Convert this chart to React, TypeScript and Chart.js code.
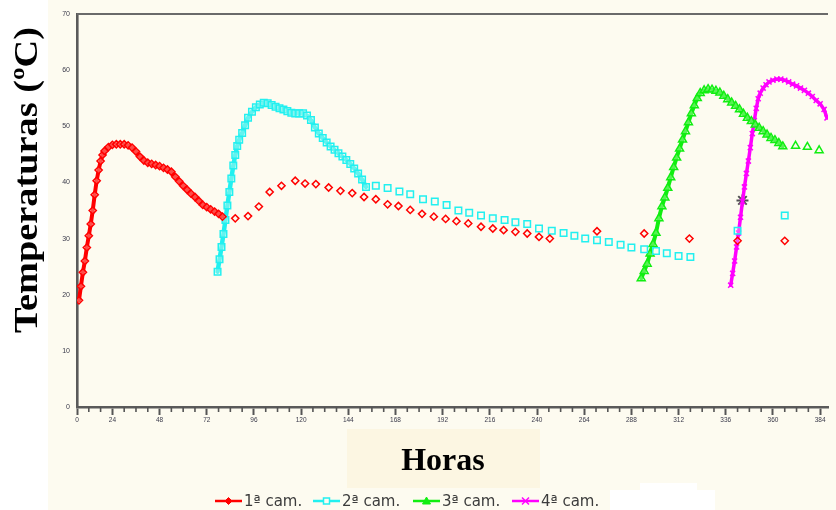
import React, { useEffect, useRef } from "react";
import { Chart, registerables } from "chart.js";

Chart.register(...registerables);

// ---------- axis / tick data ----------
const xMin = 6;
const xMax = 388;
const yMin = 0;
const yMax = 70;
const yStep = 10;
const majorTickHours = [6, 24, 48, 72, 96, 120, 144, 168, 192, 216, 240, 264, 288, 312, 336, 360, 384];
const majorTickLabels = ["0", "24", "48", "72", "96", "120", "144", "168", "192", "216", "240", "264", "288", "312", "336", "360", "384"];
const minorTickStep = 6;

const yTitle = "Temperaturas (ºC)";
const xTitle = "Horas";
const seriesNames = ["1ª cam.", "2ª cam.", "3ª cam.", "4ª cam."];

// ---------- series data (hours, ºC) ----------
const cam1Hours = [
  7, 8, 9, 10, 11, 12, 13, 14, 15, 16, 17, 18, 19, 20, 22, 24, 26, 28, 30, 32, 34, 36, 38, 40, 42, 44, 46, 48, 50,
  52, 54, 56, 58, 60, 62, 64, 66, 68, 70, 72, 74, 76, 78, 80,
  86.5, 93, 98.5, 104, 110, 117, 122, 127.5, 134, 140, 146, 152, 158, 164, 169.5, 175.5, 181.5, 187.5, 193.5, 199,
  205, 211.5, 217.5, 223, 229, 235, 241, 246.5, 270.5, 294.5, 317.5, 342, 366,
];
const cam1Temps = [
  19.0, 21.5, 24.0, 26.0, 28.4, 30.5, 32.6, 35.0, 37.8, 40.3, 42.2, 43.8, 44.9, 45.6, 46.3, 46.7, 46.8, 46.8, 46.8,
  46.6, 46.2, 45.5, 44.6, 43.9, 43.5, 43.3, 43.1, 42.9, 42.6, 42.3, 41.9, 41.0, 40.2, 39.4, 38.7, 38.0, 37.4, 36.7,
  36.0, 35.6, 35.2, 34.8, 34.4, 33.9,
  33.6, 34.0, 35.7, 38.3, 39.4, 40.3, 39.8, 39.7, 39.1, 38.5, 38.1, 37.4, 37.0, 36.1, 35.8, 35.1, 34.4, 33.9, 33.5,
  33.1, 32.7, 32.1, 31.8, 31.5, 31.2, 30.9, 30.3, 30.0, 31.3, 30.9, 30.0, 29.6, 29.6,
];

const cam2Hours = [
  77.5, 78.5, 79.5, 80.5, 81.5, 82.5, 83.5, 84.5, 85.5, 86.5, 87.5, 88.5, 90, 91.5, 93, 95, 97, 99, 101, 103, 105,
  107, 109, 111, 113, 115, 117, 119, 121, 123, 125, 127, 129, 131, 133, 135, 137, 139, 141, 143, 145, 147, 149, 151,
  153,
  158, 164, 170, 175.5, 182, 188, 194, 200, 205.5, 211.5, 217.5, 223.5, 229, 235, 241, 247.5, 253.5, 259, 264.5,
  270.5, 276.5, 282.5, 288, 294.5, 300.5, 306, 312, 318, 342, 366,
];
const cam2Temps = [
  24.1, 26.3, 28.5, 30.8, 33.3, 35.9, 38.3, 40.7, 43.0, 44.9, 46.5, 47.6, 48.8, 50.2, 51.5, 52.6, 53.4, 53.9, 54.2,
  54.1, 53.8, 53.5, 53.2, 53.0, 52.7, 52.4, 52.3, 52.3, 52.3, 51.9, 51.1, 49.8, 48.7, 47.9, 47.1, 46.4, 45.8, 45.2,
  44.6, 44.0, 43.3, 42.5, 41.6, 40.5, 39.2,
  39.4, 39.0, 38.4, 37.9, 37.0, 36.6, 36.0, 35.0, 34.6, 34.1, 33.6, 33.3, 32.9, 32.6, 31.8, 31.4, 31.0, 30.5, 30.0,
  29.7, 29.4, 28.9, 28.4, 28.1, 27.8, 27.4, 26.9, 26.7, 31.4, 34.1,
];

const cam3Hours = [
  293, 294.5, 296, 297.5, 299, 300.5, 302, 303.5, 305, 306.5, 308, 309.5, 311, 312.5, 314, 315.5, 317, 318.5, 320,
  321.5, 323, 325, 327, 329, 331, 333, 335, 337, 339, 341, 343, 345, 347, 349, 351, 353, 355, 357, 359, 361, 363, 365,
  371.5, 377.5, 383.5,
];
const cam3Temps = [
  22.9, 24.2, 25.5, 27.3, 29.0, 31.0, 33.6, 35.7, 37.3, 39.0, 40.9, 42.7, 44.4, 46.0, 47.6, 49.1, 50.7, 52.3, 53.7,
  55.0, 55.9, 56.4, 56.6, 56.5, 56.3, 56.0, 55.4, 54.8, 54.2, 53.6, 53.0, 52.2, 51.5, 50.9, 50.3, 49.7, 49.1, 48.5,
  47.9, 47.5, 47.0, 46.4,
  46.5, 46.3, 45.7,
];

const cam4Hours = [
  338.5, 339.5, 340.5, 341.5, 342.5, 343.5, 344.5, 345.5, 346.5, 347.5, 348.5, 349.5, 350.5, 351.5, 352.5, 353.5,
  355, 356.5, 358, 360, 362, 364, 366, 368, 370, 372, 374, 376, 378, 380, 382, 384, 386, 387.5,
];
const cam4Temps = [
  21.7, 23.8, 26.0, 28.5, 31.0, 33.8, 36.6, 39.2, 41.6, 43.8, 46.2, 48.7, 51.0, 53.2, 54.9, 55.9, 56.8, 57.4, 57.9,
  58.2, 58.4, 58.4, 58.2, 57.9, 57.5, 57.2, 56.8, 56.4, 55.9, 55.3, 54.6, 54.0, 53.0, 51.5,
];

const extraHours = [344.5];
const extraTemps = [36.8];

// ---------- styles ----------
const colors = ["#ff0000", "#22f0f0", "#11ee11", "#ff00ff"];
const pointStyles = ["rectRot", "rect", "triangle", "crossRot"];
const pointRadii = [3.6, 4.6, 4.6, 3.6];
const lineWidths = [4, 4.5, 4, 3.5];
const legendLefts = [215, 313, 413, 512];

const toPoints = (xs: number[], ys: number[]) => xs.map((x, i) => ({ x, y: ys[i] }));

const isMajor = (v: number) => majorTickHours.indexOf(v) >= 0;

const decorPlugin = {
  id: "decor",
  beforeDraw(chart: any) {
    const { ctx, width, height } = chart;
    ctx.save();
    ctx.fillStyle = "#ffffff";
    ctx.fillRect(0, 0, width, height);
    ctx.fillStyle = "#fdfbf0";
    ctx.fillRect(48, 0, width - 48, height);
    ctx.fillStyle = "#fcf6e2";
    ctx.fillRect(347, 429, 193, 59);
    ctx.fillStyle = "#ffffff";
    ctx.fillRect(610, 490, 105, 20);
    ctx.fillRect(640, 483, 57, 8);
    ctx.restore();
  },
  afterDraw(chart: any) {
    const { ctx, chartArea } = chart;
    const xs = chart.scales.x;
    ctx.save();
    // top frame line
    ctx.strokeStyle = "#6a6a6a";
    ctx.lineWidth = 2.2;
    ctx.beginPath();
    ctx.moveTo(chartArea.left, chartArea.top);
    ctx.lineTo(chartArea.right, chartArea.top);
    ctx.stroke();
    // minor ticks
    ctx.strokeStyle = "#555";
    ctx.lineWidth = 1.6;
    for (let h = xMin; h <= xMax; h += minorTickStep) {
      if (isMajor(h)) continue;
      const px = xs.getPixelForValue(h);
      ctx.beginPath();
      ctx.moveTo(px, chartArea.bottom);
      ctx.lineTo(px, chartArea.bottom + 5);
      ctx.stroke();
    }
    // y title
    ctx.fillStyle = "#000";
    ctx.font = 'bold 34px "Liberation Serif", "Times New Roman", serif';
    ctx.textAlign = "center";
    ctx.textBaseline = "middle";
    ctx.save();
    ctx.translate(28, 180);
    ctx.rotate(-Math.PI / 2);
    const w = ctx.measureText(yTitle).width;
    ctx.scale(306 / w, 1);
    ctx.fillText(yTitle, 0, 0);
    ctx.restore();
    // x title
    ctx.font = 'bold 32px "Liberation Serif", "Times New Roman", serif';
    ctx.fillText(xTitle, 443, 462);
    ctx.restore();
  },
};

function LegendIcon({ i }: { i: number }) {
  const c = colors[i];
  const cx = 13.5;
  const cy = 6;
  let marker: React.ReactNode = null;
  if (i === 0) marker = <polygon points={`${cx},${cy - 3.5} ${cx + 3.5},${cy} ${cx},${cy + 3.5} ${cx - 3.5},${cy}`} fill={c} stroke={c} />;
  if (i === 1) marker = <rect x={cx - 3} y={cy - 3} width={6} height={6} fill="#fdfbf0" stroke={c} strokeWidth={1.5} />;
  if (i === 2) marker = <polygon points={`${cx},${cy - 4} ${cx + 4},${cy + 3} ${cx - 4},${cy + 3}`} fill={c} stroke={c} />;
  if (i === 3)
    marker = (
      <g stroke={c} strokeWidth={1.5}>
        <line x1={cx - 3.5} y1={cy - 3.5} x2={cx + 3.5} y2={cy + 3.5} />
        <line x1={cx - 3.5} y1={cy + 3.5} x2={cx + 3.5} y2={cy - 3.5} />
      </g>
    );
  return (
    <svg width={27} height={12} style={{ display: "block" }}>
      <line x1={0} y1={cy} x2={27} y2={cy} stroke={c} strokeWidth={2.5} />
      {marker}
    </svg>
  );
}

export default function App() {
  const canvasRef = useRef<HTMLCanvasElement | null>(null);

  useEffect(() => {
    document.body.style.margin = "0";
    const canvas = canvasRef.current;
    if (!canvas) return;
    const gapSegment = {
      borderColor: (ctx: any) => (ctx.p1.parsed.x - ctx.p0.parsed.x > 3 ? "rgba(0,0,0,0)" : undefined),
    };
    const series = [
      toPoints(cam1Hours, cam1Temps),
      toPoints(cam2Hours, cam2Temps),
      toPoints(cam3Hours, cam3Temps),
      toPoints(cam4Hours, cam4Temps),
    ];
    const datasets: any[] = series.map((data, i) => ({
      label: seriesNames[i],
      data,
      showLine: true,
      borderColor: colors[i],
      backgroundColor: "rgba(255,255,255,0)",
      borderWidth: lineWidths[i],
      borderJoinStyle: "round",
      borderCapStyle: "round",
      pointStyle: pointStyles[i],
      pointRadius: pointRadii[i],
      pointBorderWidth: 1.5,
      pointBorderColor: colors[i],
      pointBackgroundColor: "rgba(253,251,240,0.3)",
      segment: gapSegment,
    }));
    datasets.push({
      label: "",
      data: toPoints(extraHours, extraTemps),
      showLine: false,
      pointStyle: "star",
      pointRadius: 6,
      pointBorderWidth: 2,
      pointBorderColor: "#505050",
      backgroundColor: "#505050",
    });

    const chart = new Chart(canvas, {
      type: "scatter",
      data: { datasets },
      options: {
        animation: false,
        responsive: false,
        events: [],
        layout: { padding: { top: 14, left: 0, right: 0, bottom: 0 } },
        plugins: { legend: { display: false }, tooltip: { enabled: false }, title: { display: false } },
        scales: {
          x: {
            type: "linear",
            min: xMin,
            max: xMax,
            afterFit: (scale: any) => {
              scale.height = 103;
            },
            afterBuildTicks: (scale: any) => {
              scale.ticks = majorTickHours.map((v) => ({ value: v }));
            },
            ticks: {
              autoSkip: false,
              maxRotation: 0,
              padding: 1,
              color: "#3a3a4a",
              font: { size: 6.5, family: "Arial, 'Liberation Sans', sans-serif" },
              callback: (value: any) => {
                const idx = majorTickHours.indexOf(Number(value));
                return idx >= 0 ? majorTickLabels[idx] : "";
              },
            },
            grid: {
              display: true,
              drawOnChartArea: false,
              drawTicks: true,
              tickLength: 8,
              tickWidth: 2,
              tickColor: "#555",
            },
            border: { display: true, color: "#5a5a5a", width: 2.6 },
          },
          y: {
            type: "linear",
            min: yMin,
            max: yMax,
            afterFit: (scale: any) => {
              scale.width = 77;
            },
            ticks: {
              stepSize: yStep,
              padding: 7,
              color: "#3a3a4a",
              font: { size: 7, family: "Arial, 'Liberation Sans', sans-serif" },
            },
            grid: { display: false, drawTicks: false },
            border: { display: true, color: "#5a5a5a", width: 2.6 },
          },
        },
      },
      plugins: [decorPlugin],
    } as any);
    return () => chart.destroy();
  }, []);

  return (
    <div style={{ position: "relative", width: 836, height: 510, overflow: "hidden" }}>
      <canvas ref={canvasRef} width={836} height={510} style={{ display: "block", width: 836, height: 510 }} />
      {seriesNames.map((name, i) => (
        <div
          key={name}
          style={{
            position: "absolute",
            left: legendLefts[i],
            top: 492,
            height: 18,
            display: "flex",
            alignItems: "center",
            fontFamily: "'DejaVu Sans', Verdana, sans-serif",
            fontSize: 15,
            color: "#3c3c3c",
            whiteSpace: "nowrap",
          }}
        >
          <LegendIcon i={i} />
          <span style={{ marginLeft: 2 }}>{name}</span>
        </div>
      ))}
    </div>
  );
}
